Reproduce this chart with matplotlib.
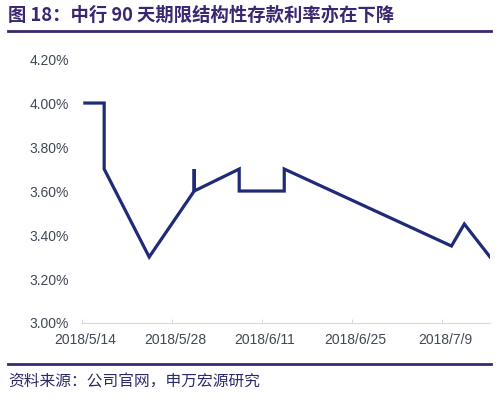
import numpy as np
import matplotlib
matplotlib.use('Agg')
import matplotlib.pyplot as plt
from matplotlib.ticker import FuncFormatter

plt.rcParams['font.family'] = ['Liberation Sans', 'Noto Sans CJK SC', 'DejaVu Sans']

# days counted from 2018/5/14
days = [0, 3, 3, 10, 17, 17, 17, 24, 24, 31, 31, 57, 59, 63]
rate = [4.00, 4.00, 3.70, 3.30, 3.60, 3.70, 3.60, 3.70, 3.60, 3.60, 3.70, 3.35, 3.45, 3.30]
tick_days = [0, 14, 28, 42, 56]
tick_labels = ['2018/5/14', '2018/5/28', '2018/6/11', '2018/6/25', '2018/7/9']
y_ticks = [3.0, 3.2, 3.4, 3.6, 3.8, 4.0, 4.2]

title = '图 18：中行 90 天期限结构性存款利率亦在下降'
source = '资料来源：公司官网，申万宏源研究'

fig = plt.figure(figsize=(4.97, 3.99), dpi=100)
ax = fig.add_axes([0.1656, 0.1905, 0.8204, 0.6615])

ax.plot(days, rate, color='#1f2a78', lw=2.3, solid_joinstyle='miter')
ax.set_xlim(-0.4, 63)
ax.set_ylim(3.0, 4.2)
ax.set_yticks(y_ticks)
ax.yaxis.set_major_formatter(FuncFormatter(lambda v, p: '%.2f%%' % v))
ax.set_xticks(tick_days)
ax.set_xticklabels(tick_labels)
ax.set_xticks([d - 0.4 for d in tick_days], minor=True)
ax.tick_params(axis='y', length=0, pad=9.5, labelsize=10, labelcolor='#404855')
ax.tick_params(axis='x', which='major', length=0, pad=7.5, labelsize=10, labelcolor='#404855')
ax.tick_params(axis='x', which='minor', direction='in', length=3, color='#d0d0d0')
for s in ['top', 'right', 'left']:
    ax.spines[s].set_visible(False)
ax.spines['bottom'].set_color('#d9d9d9')
ax.spines['bottom'].set_linewidth(0.8)

purple = '#3b2670'
fig.text(8 / 497, 1 - 15 / 399, title, fontsize=13.2, fontweight='bold', color=purple,
         family=['Noto Sans CJK SC', 'DejaVu Sans'], va='center', ha='left')
fig.add_artist(plt.Line2D([8 / 497, 491 / 497], [1 - 30.5 / 399, 1 - 30.5 / 399], color=purple, lw=2))
fig.add_artist(plt.Line2D([8 / 497, 491 / 497], [1 - 364 / 399, 1 - 364 / 399], color=purple, lw=2))
fig.text(8 / 497, 1 - 382 / 399, source, fontsize=11.3, color='#2a2a6a',
         family=['Noto Sans CJK SC', 'DejaVu Sans'], va='center', ha='left')

fig.savefig('out.png', dpi=100, facecolor='white')
